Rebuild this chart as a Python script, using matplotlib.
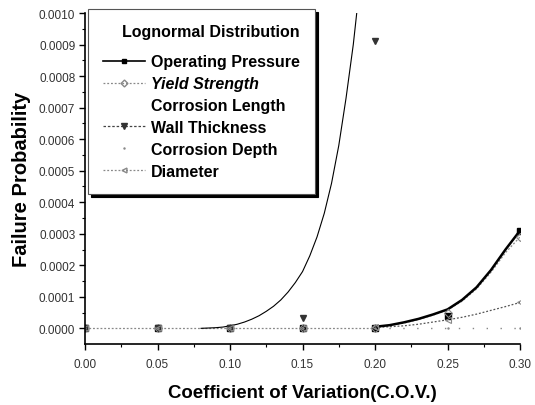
import matplotlib
matplotlib.use("Agg")
import matplotlib.pyplot as plt
from matplotlib.lines import Line2D

plt.rcParams['font.family'] = ['Liberation Sans', 'DejaVu Sans']

# points computed at each C.O.V.
cov = [0.00, 0.05, 0.10, 0.15, 0.20, 0.25, 0.30]
op_pts = [0.0, 0.0, 0.0, 0.0, 0.000002, 0.00004, 0.00031]
ys_pts = [0.0, 0.0, 0.0, 0.0, 0.000002, 0.000048, 0.00029]
wt_cov = [0.00, 0.05, 0.10, 0.15, 0.20]
wt_pts = [0.0, 0.0, 0.0, 0.000034, 0.00091]
cd_pts = [0.0, 0.0, 0.0, 0.0, 0.0, 0.0, 0.0]
dia_pts = [0.0, 0.0, 0.0, 0.0, 0.000003, 0.000027, 0.000082]

# fitted curves
fit_x = [0.20, 0.21, 0.22, 0.23, 0.24, 0.25, 0.26, 0.27, 0.28, 0.29, 0.30]
op_fit = [0.000005, 0.00001, 0.000019, 0.00003, 0.000044, 0.00006, 0.00009,
          0.00013, 0.000185, 0.00025, 0.00031]
ys_fit = [0.000004, 0.000009, 0.000017, 0.000028, 0.000042, 0.000058, 0.000086,
          0.000125, 0.000178, 0.00024, 0.00029]
dia_fit = [0.000003, 0.000005, 0.000008, 0.000013, 0.00002, 0.000027, 0.000035,
           0.000045, 0.000057, 0.000069, 0.000082]
wt_x = [0.080, 0.085, 0.090, 0.095, 0.100, 0.105, 0.110, 0.115, 0.120, 0.125,
        0.130, 0.135, 0.140, 0.145, 0.150, 0.155, 0.160, 0.165, 0.170, 0.175,
        0.180, 0.185, 0.190]
wt_fit = [0.0, 0.000001, 0.000002, 0.000004, 0.000008, 0.000013, 0.00002,
          0.000029, 0.00004, 0.000054, 0.00007, 0.00009, 0.000115, 0.000145,
          0.00018, 0.00023, 0.00029, 0.000365, 0.00046, 0.00058, 0.00073,
          0.0009, 0.00111]

base_x = [0.00, 0.05, 0.10, 0.15, 0.20]
base_y = [0.0, 0.0, 0.0, 0.0, 0.0]

fig = plt.figure(figsize=(5.35, 4.06), dpi=100)
ax = fig.add_axes([0.159, 0.150, 0.813, 0.8155])

grey = '#888888'
# baseline dotted parts
ax.plot(base_x, base_y, color=grey, lw=0.9, ls=(0, (1.5, 1.5)))
ax.plot(fit_x, ys_fit, color=grey, lw=0.9, ls=(0, (1.5, 1.5)))
ax.plot(fit_x, dia_fit, color='#555555', lw=0.9, ls=(0, (1.5, 1.5)))
ax.plot([0.20, 0.30], [0.0, 0.0], color=grey, lw=1.0, ls=(0, (1, 9)))
ax.plot(fit_x, op_fit, color='black', lw=1.8)
ax.plot(wt_x, wt_fit, color='black', lw=0.8)

# markers
ax.plot(cov, op_pts, ls='none', marker='s', ms=4, color='black')
ax.plot(cov, ys_pts, ls='none', marker='D', ms=4.5, mfc='none', mec=grey, mew=0.8)
ax.plot(wt_cov, wt_pts, ls='none', marker='v', ms=5, color='#333333')
ax.plot(cov, dia_pts, ls='none', marker='<', ms=4.5, mfc='none', mec=grey, mew=0.8)
ax.plot(cov, cd_pts, ls='none', marker='.', ms=1.5, color=grey)

ax.set_xlim(0.0, 0.30)
ax.set_ylim(-0.00005, 0.0010)
ax.set_xticks(cov)
ax.set_xticklabels(['%.2f' % v for v in cov])
yt = [i * 0.0001 for i in range(11)]
ax.set_yticks(yt)
ax.set_yticklabels(['%.4f' % v for v in yt])
ax.set_xticks([0.025 + 0.05 * i for i in range(6)], minor=True)
ax.set_yticks([0.00005 + 0.0001 * i for i in range(10)], minor=True)
ax.tick_params(which='major', direction='out', length=4, width=1,
               labelsize=8.5, labelcolor='#333333', pad=3)
ax.tick_params(which='minor', direction='out', length=2.5, width=0.8)
ax.tick_params(axis='x', pad=6)
ax.spines['top'].set_visible(False)
ax.spines['right'].set_visible(False)
ax.spines['left'].set_linewidth(1.2)
ax.spines['bottom'].set_linewidth(1.2)

ax.set_xlabel('Coefficient of Variation(C.O.V.)', fontsize=13.4, fontweight='bold', labelpad=10)
ax.set_ylabel('Failure Probability', fontsize=14.5, fontweight='bold', labelpad=6)

handles = [
    Line2D([], [], color='black', lw=1.2, marker='s', ms=3.5),
    Line2D([], [], color=grey, lw=0.9, ls=(0, (1.5, 1.5)), marker='D', ms=3.5, mfc='none', mec=grey),
    Line2D([], [], color='none'),
    Line2D([], [], color='#444444', lw=0.9, ls=(0, (2, 1.5)), marker='v', ms=4, mfc='#333333', mec='#333333'),
    Line2D([], [], color='none', marker='.', ms=1.5, mfc=grey, mec=grey),
    Line2D([], [], color=grey, lw=0.9, ls=(0, (1.5, 1.5)), marker='<', ms=3.5, mfc='none', mec=grey),
]
labels = ['Operating Pressure', 'Yield Strength', 'Corrosion Length',
          'Wall Thickness', 'Corrosion Depth', 'Diameter']
leg = ax.legend(handles, labels, loc='upper left', bbox_to_anchor=(0.007, 1.012),
                borderaxespad=0,
                title='Lognormal Distribution', fancybox=False,
                shadow={'color': 'black', 'alpha': 1.0}, framealpha=1,
                edgecolor='#555555', handlelength=2.6, handletextpad=0.4,
                labelspacing=0.43, borderpad=0.95,
                prop={'size': 11.5, 'weight': 'bold'},
                title_fontproperties={'size': 11.5, 'weight': 'bold'})
leg.get_frame().set_linewidth(0.8)
leg.get_texts()[1].set_style('italic')
leg.set_alignment('right')
leg._legend_box.sep = 11

fig.savefig('out.png', dpi=100)
